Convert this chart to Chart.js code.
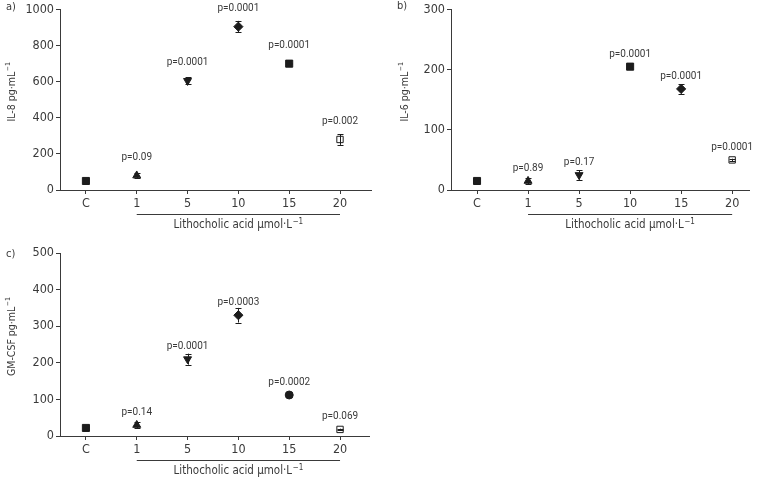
<!DOCTYPE html>
<html><head><meta charset="utf-8">
<script src="https://cdn.jsdelivr.net/npm/chart.js@4"></script>
<style>
html,body{margin:0;padding:0;background:#fff;}
#wrap{position:relative;width:758px;height:479px;overflow:hidden;}
canvas{position:absolute;}
</style></head><body>
<div id="wrap">
<canvas id="ca" style="left:0px;top:0px;width:379px;height:238px" width="379" height="238"></canvas>
<canvas id="cb" style="left:379px;top:0px;width:379px;height:238px" width="379" height="238"></canvas>
<canvas id="cc" style="left:0px;top:240px;width:379px;height:239px" width="379" height="239"></canvas>
</div>
<script>
// ---- data ----
const categories = ['C', '1', '5', '10', '15', '20'];

const il8Values = [50, 80, 605, 905, 700, 280];
const il8Errors = [0, 15, 20, 32, 4, 30];
const il8PLabels = ['', 'p=0.09', 'p=0.0001', 'p=0.0001', 'p=0.0001', 'p=0.002'];
const il8Ticks = [0, 200, 400, 600, 800, 1000];

const il6Values = [15, 15, 25, 205, 168, 50];
const il6Errors = [0, 5, 8, 0, 8, 2];
const il6PLabels = ['', 'p=0.89', 'p=0.17', 'p=0.0001', 'p=0.0001', 'p=0.0001'];
const il6Ticks = [0, 100, 200, 300];

const gmcsfValues = [22, 30, 210, 330, 112, 18];
const gmcsfErrors = [0, 9, 15, 20, 0, 2];
const gmcsfPLabels = ['', 'p=0.14', 'p=0.0001', 'p=0.0003', 'p=0.0002', 'p=0.069'];
const gmcsfTicks = [0, 100, 200, 300, 400, 500];

const xAxisLabel = 'Lithocholic acid \u00b5mol\u00b7L';
// ---- styles ----
const INK = '#1c1c1c';
const TXT = '#3a3a3a';
const NARROW = '"Liberation Sans Narrow", "DejaVu Sans Condensed", sans-serif';
const FONT = 'Roboto, "Liberation Sans", sans-serif';

function drawWithSup(ctx, base, sup, x, y, size, align, fam) {
  ctx.font = size + 'px ' + fam;
  const wb = ctx.measureText(base).width;
  ctx.font = Math.round(size * 0.7) + 'px ' + fam;
  const ws = ctx.measureText(sup).width;
  const total = wb + ws + 0.5;
  let sx = align === 'center' ? x - total / 2 : x;
  ctx.textAlign = 'left';
  ctx.textBaseline = 'middle';
  ctx.font = size + 'px ' + fam;
  ctx.fillText(base, sx, y);
  ctx.font = Math.round(size * 0.7) + 'px ' + fam;
  ctx.fillText(sup, sx + wb + 0.5, y - size * 0.35);
}

function makePanel(id, p) {
  const ctx = document.getElementById(id);
  const W = ctx.width, H = ctx.height;
  const yW = 40, xH = 40;
  const plugin = {
    id: 'annot_' + id,
    afterDatasetsDraw(chart) {
      const c = chart.ctx;
      const xs = chart.scales.x, ys = chart.scales.y;
      const ca = chart.chartArea;
      c.save();
      // error bars
      c.strokeStyle = INK; c.lineWidth = 1;
      p.values.forEach((v, i) => {
        const e = p.errors[i];
        if (!e) return;
        const x = Math.round(xs.getPixelForValue(i)) + 0.5;
        const y1 = ys.getPixelForValue(v - e), y2 = ys.getPixelForValue(v + e);
        c.beginPath();
        c.moveTo(x, y1); c.lineTo(x, y2);
        c.moveTo(x - 3, Math.round(y1) + 0.5); c.lineTo(x + 3, Math.round(y1) + 0.5);
        c.moveTo(x - 3, Math.round(y2) + 0.5); c.lineTo(x + 3, Math.round(y2) + 0.5);
        c.stroke();
      });
      // p-values
      c.fillStyle = TXT;
      c.font = '10px ' + FONT;
      c.textAlign = 'center'; c.textBaseline = 'middle';
      p.pLabels.forEach((t, i) => {
        if (!t) return;
        c.fillText(t, xs.getPixelForValue(i), ys.getPixelForValue(p.values[i]) + p.pOffset);
      });
      // bracket
      const bx1 = xs.getPixelForValue(1), bx2 = xs.getPixelForValue(categories.length - 1);
      const by = Math.round(ca.bottom + 24) + 0.5;
      c.strokeStyle = TXT;
      c.beginPath(); c.moveTo(bx1, by); c.lineTo(bx2, by); c.stroke();
      drawWithSup(c, xAxisLabel, '\u22121', (bx1 + bx2) / 2, ca.bottom + 35.5, 11.5, 'center', NARROW);
      // panel letter
      c.font = '11px ' + NARROW;
      c.textAlign = 'left'; c.textBaseline = 'middle';
      c.fillText(p.letter, p.letterX, p.letterY);
      // y title
      c.translate(p.titleX, (ca.top + ca.bottom) / 2 - 8);
      c.rotate(-Math.PI / 2);
      drawWithSup(c, p.title, '\u22121', 0, 0, 10.5, 'center', NARROW);
      c.restore();
    }
  };
  return new Chart(ctx, {
    type: 'scatter',
    data: {
      datasets: [{
        data: p.values.map((v, i) => ({ x: i, y: v })),
        pointStyle: p.styles,
        rotation: p.rotations,
        radius: p.radii,
        hoverRadius: p.radii,
        backgroundColor: p.fills,
        borderColor: INK,
        borderWidth: 1
      }]
    },
    options: {
      responsive: false,
      animation: false,
      events: [],
      layout: { padding: { left: p.area.left - yW, right: W - p.area.right, top: p.area.top, bottom: H - p.area.bottom - xH } },
      plugins: { legend: { display: false }, tooltip: { enabled: false } },
      scales: {
        x: {
          type: 'linear', min: p.xMin, max: p.xMax,
          afterFit(s) { s.height = xH; },
          afterBuildTicks(s) { s.ticks = categories.map((c, i) => ({ value: i })); },
          ticks: { callback: (v) => categories[v], color: TXT, font: { family: NARROW, size: 12.5 }, padding: 2, maxRotation: 0, autoSkip: false },
          grid: { drawOnChartArea: false, drawTicks: true, tickLength: 4, color: TXT, lineWidth: 1 },
          border: { display: true, color: TXT, width: 1 }
        },
        y: {
          type: 'linear', min: p.yTicks[0], max: p.yTicks[p.yTicks.length - 1],
          afterFit(s) { s.width = yW; },
          afterBuildTicks(s) { s.ticks = p.yTicks.map(v => ({ value: v })); },
          ticks: { callback: (v) => String(v), color: TXT, font: { family: NARROW, size: 12.5 }, padding: 2 },
          grid: { drawOnChartArea: false, drawTicks: true, tickLength: 4, color: TXT, lineWidth: 1 },
          border: { display: true, color: TXT, width: 1 }
        }
      }
    },
    plugins: [plugin]
  });
}

const W_ = '#ffffff';
makePanel('ca', {
  values: il8Values, errors: il8Errors, pLabels: il8PLabels, yTicks: il8Ticks,
  styles: ['rect', 'triangle', 'triangle', 'rectRot', 'rect', 'rect'],
  rotations: [0, 0, 180, 0, 0, 0],
  radii: [5, 4.6, 4.6, 4.6, 5, 4.5],
  fills: [INK, INK, INK, INK, INK, W_],
  area: { left: 60, top: 7, right: 371, bottom: 190 },
  xMin: -0.51, xMax: 5.61, pOffset: -18,
  letter: 'a)', letterX: 6, letterY: 7, title: 'IL-8 pg\u00b7mL', titleX: 12
});
makePanel('cb', {
  values: il6Values, errors: il6Errors, pLabels: il6PLabels, yTicks: il6Ticks,
  styles: ['rect', 'triangle', 'triangle', 'rect', 'rectRot', 'rect'],
  rotations: [0, 0, 180, 0, 0, 0],
  radii: [5, 4.6, 4.6, 5, 4.6, 4.5],
  fills: [INK, INK, INK, INK, INK, W_],
  area: { left: 72, top: 6, right: 370, bottom: 190 },
  xMin: -0.51, xMax: 5.33, pOffset: -12,
  letter: 'b)', letterX: 18, letterY: 6, title: 'IL-6 pg\u00b7mL', titleX: 26
});
makePanel('cc', {
  values: gmcsfValues, errors: gmcsfErrors, pLabels: gmcsfPLabels, yTicks: gmcsfTicks,
  styles: ['rect', 'triangle', 'triangle', 'rectRot', 'circle', 'rect'],
  rotations: [0, 0, 180, 0, 0, 0],
  radii: [5, 4.6, 4.6, 4.6, 4, 4.5],
  fills: [INK, INK, INK, INK, INK, W_],
  area: { left: 60, top: 13, right: 369, bottom: 196 },
  xMin: -0.51, xMax: 5.57, pOffset: -13,
  letter: 'c)', letterX: 6, letterY: 14, title: 'GM-CSF pg\u00b7mL', titleX: 12
});
</script>
</body></html>
